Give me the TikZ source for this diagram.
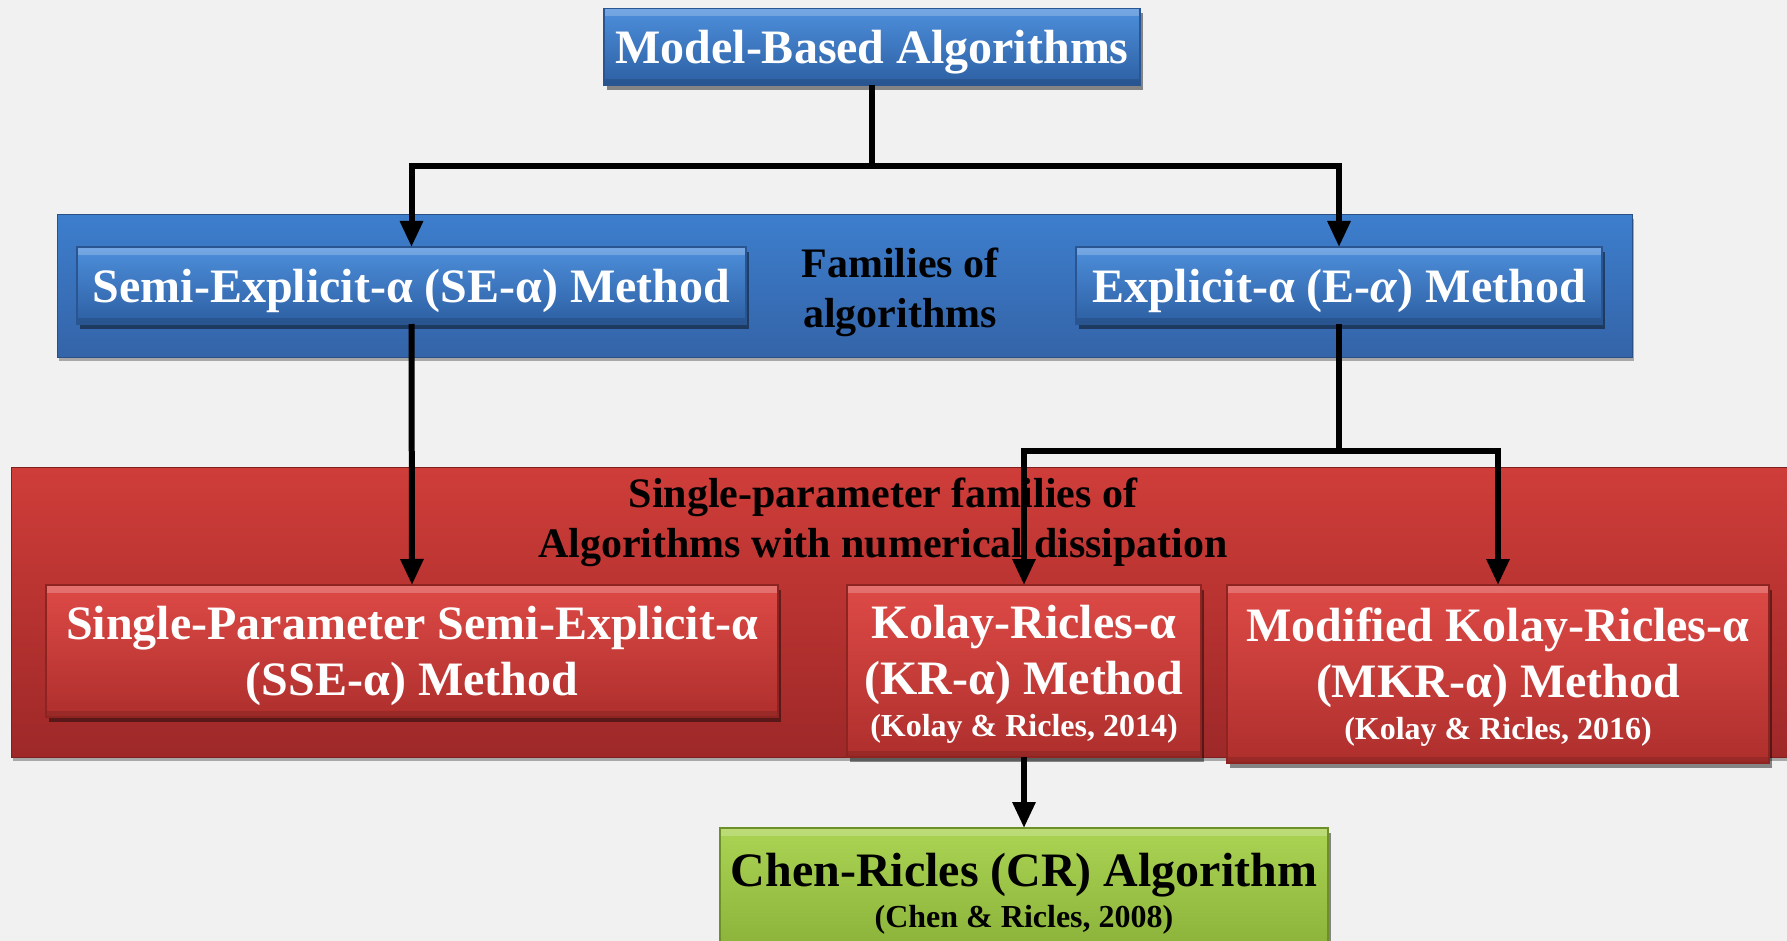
\documentclass[tikz,border=0pt]{standalone}
\usepackage{fontspec}
\setmainfont{Liberation Serif}
\usetikzlibrary{arrows.meta,shadows}
\definecolor{bg}{HTML}{F1F1F1}
\definecolor{bT}{HTML}{4D8FDC}
\definecolor{bB}{HTML}{2D5FA2}
\definecolor{bE}{HTML}{2A5590}
\definecolor{pbT}{HTML}{3D7ECD}
\definecolor{pbB}{HTML}{3464A8}
\definecolor{prT}{HTML}{CF3D39}
\definecolor{prB}{HTML}{9E2828}
\definecolor{rT}{HTML}{DE4A46}
\definecolor{rB}{HTML}{AE2F2D}
\definecolor{rE}{HTML}{8E2422}
\definecolor{gT}{HTML}{ABD353}
\definecolor{gB}{HTML}{88B038}
\definecolor{gE}{HTML}{6E9028}
\begin{document}
\begin{tikzpicture}[x=0.5pt,y=-0.5pt,
  every node/.style={inner sep=0pt,outer sep=0pt},
  bevel/.style={path picture={
    \fill[white,opacity=0.22] (path picture bounding box.north west) rectangle ([yshift=-4pt]path picture bounding box.north east);
    \fill[black,opacity=0.12] ([yshift=3pt]path picture bounding box.south west) rectangle (path picture bounding box.south east);}},
  boxbase/.style={rectangle,align=center,text=white,text depth=0pt,
    font=\bfseries\fontsize{24}{28}\selectfont,
    drop shadow={shadow xshift=1.5pt,shadow yshift=-2.5pt,opacity=0.45,fill=black},bevel},
  bluebox/.style={boxbase,top color=bT,bottom color=bB,draw=bE,line width=0.6pt},
  redbox/.style={boxbase,top color=rT,bottom color=rB,draw=rE,line width=0.6pt},
  greenbox/.style={boxbase,text depth=,text=black,top color=gT,bottom color=gB,draw=gE,line width=0.6pt},
  bluepanel/.style={rectangle,top color=pbT,bottom color=pbB,draw=pbB!80!black,line width=0.5pt,
    drop shadow={shadow xshift=1pt,shadow yshift=-2pt,opacity=0.3,fill=black}},
  redpanel/.style={rectangle,top color=prT,bottom color=prB,draw=prB!80!black,line width=0.5pt,
    drop shadow={shadow xshift=1pt,shadow yshift=-2pt,opacity=0.3,fill=black}},
  paneltitle/.style={align=center,text=black,font=\bfseries\fontsize{21}{25}\selectfont},
  conn/.style={line width=3pt,black},
  arr/.style={conn,-{Triangle[width=11pt,length=13pt]}}]
\useasboundingbox (0,0) rectangle (1787,941);
\clip (0,0) rectangle (1787,941);
\fill[bg] (0,0) rectangle (1787,941);

% panels
\node[bluepanel,minimum width=787.5pt,minimum height=71pt] (famp) at (844.5,286) {};
\node[redpanel,minimum width=892pt,minimum height=145pt] (redp) at (903,612) {};
\node[paneltitle] (famt) at (900,292) {Families of\\algorithms};
\node[paneltitle] (redt) at (883,522) {Single-parameter families of\\Algorithms with numerical dissipation};

% boxes
\node[bluebox,minimum width=268pt,minimum height=38.5pt] (top) at (872,47) {Model-Based Algorithms};
\node[bluebox,minimum width=334.5pt,minimum height=38.5pt] (se) at (411.5,285.5) {Semi-Explicit-α (SE-α) Method};
\node[bluebox,minimum width=263pt,minimum height=38.5pt] (e) at (1339,285.5) {Explicit-α (E-\textit{α}) Method};
\node[redbox,minimum width=366pt,minimum height=66pt] (sse) at (412,651) {Single-Parameter Semi-Explicit-α\\(SSE-α) Method};
\node[redbox,minimum width=177pt,minimum height=86pt] (kr) at (1024,671) {Kolay-Ricles-α\\(KR-α) Method\\[-7pt]{\fontsize{16}{19}\selectfont (Kolay \& Ricles, 2014)}};
\node[redbox,minimum width=271pt,minimum height=89pt] (mkr) at (1498,674) {Modified Kolay-Ricles-α\\(MKR-α) Method\\[-7pt]{\fontsize{16}{19}\selectfont (Kolay \& Ricles, 2016)}};
\node[greenbox,minimum width=304pt,minimum height=66pt] (cr) at (1024,894) {Chen-Ricles (CR) Algorithm\\[-7.3pt]{\fontsize{16}{19}\selectfont (Chen \& Ricles, 2008)}};

% connectors
\coordinate (j1) at (872,166);
\coordinate (j2) at (1339,451);
\draw[conn] (top.south) -- (j1);
\draw[arr] (j1) -| (se.north);
\draw[arr] (j1) -| (e.north);
\draw[arr] (se.south) -- (sse.north);
\draw[conn] (e.south) -- (j2);
\draw[arr] (j2) -| (kr.north);
\draw[arr] (j2) -| (mkr.north);
\draw[arr] (kr.south) -- (cr.north);
\end{tikzpicture}
\end{document}
